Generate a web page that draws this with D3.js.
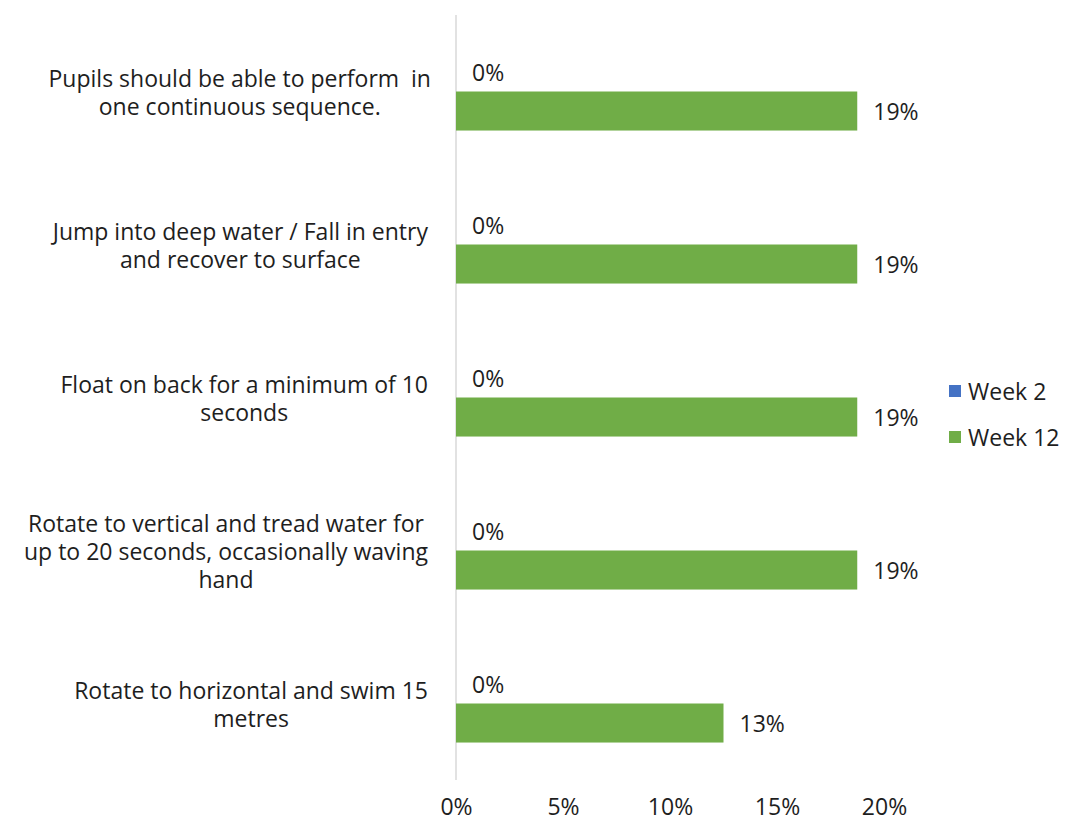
<!DOCTYPE html>
<html>
<head>
<meta charset="utf-8">
<script src="https://cdn.jsdelivr.net/npm/d3@7"></script>
<style>
  html, body { margin: 0; padding: 0; background: #fff; }
  svg { display: block; font-family: "Open Sans", Lato, sans-serif; }
</style>
</head>
<body>
<svg id="chart" width="1066" height="823"></svg>
<script>
// Skill items, each label split into its display lines
const categories = [
  "Pupils should be able to perform  in one continuous sequence.",
  "Jump into deep water / Fall in entry and recover to surface",
  "Float on back for a minimum of 10 seconds",
  "Rotate to vertical and tread water for up to 20 seconds, occasionally waving hand",
  "Rotate to horizontal and swim 15 metres"
];
const categoryLines = [
  ["Pupils should be able to perform  in", "one continuous sequence."],
  ["Jump into deep water / Fall in entry", "and recover to surface"],
  ["Float on back for a minimum of 10", "seconds"],
  ["Rotate to vertical and tread water for", "up to 20 seconds, occasionally waving", "hand"],
  ["Rotate to horizontal and swim 15", "metres"]
];
const seriesNames = ["Week 2", "Week 12"];
const week2 = [0, 0, 0, 0, 0];
const week12 = [0.1875, 0.1875, 0.1875, 0.1875, 0.125];
const xTicks = [0, 0.05, 0.10, 0.15, 0.20];
const colors = ["#4472C4", "#70AD47"];

const seriesValues = [week2, week12];
const rows = categories.map((c, i) => ({
  category: c,
  lines: categoryLines[i],
  values: seriesNames.map((s, j) => ({ series: s, value: seriesValues[j][i] }))
}));

const svg = d3.select("#chart");
const plot = { left: 456, right: 884, top: 15, bottom: 780 };
const fontSize = 23;
const textColor = "#1e1e1e";
const fmt = d3.format(".0%");

const x = d3.scaleLinear().domain([0, 0.20]).range([plot.left, plot.right]);
const y0 = d3.scaleBand().domain(categories).range([plot.top, plot.bottom]).padding(0);
const bw = y0.bandwidth();
const barH = bw / 3.92;
const y1 = d3.scaleBand().domain(seriesNames)
  .range([(bw - 2 * barH) / 2, (bw + 2 * barH) / 2]).padding(0);

// vertical category axis line
svg.append("line")
  .attr("x1", x(0)).attr("x2", x(0))
  .attr("y1", plot.top).attr("y2", plot.bottom)
  .attr("stroke", "#d9d9d9").attr("stroke-width", 1.5);

// bars and value labels
const groups = svg.selectAll("g.cat").data(rows).join("g")
  .attr("class", "cat")
  .attr("transform", d => `translate(0,${y0(d.category)})`);

groups.selectAll("rect").data(d => d.values).join("rect")
  .attr("x", x(0))
  .attr("y", d => y1(d.series))
  .attr("width", d => x(d.value) - x(0))
  .attr("height", y1.bandwidth())
  .attr("fill", (d, i) => colors[i]);

groups.selectAll("text.val").data(d => d.values).join("text")
  .attr("class", "val")
  .attr("x", d => x(d.value) + 16)
  .attr("y", d => y1(d.series) + y1.bandwidth() / 2)
  .attr("dominant-baseline", "central")
  .attr("font-size", fontSize)
  .attr("fill", textColor)
  .text(d => fmt(d.value));

// category labels: block right-aligned to the axis, lines centred within the block
const measure = svg.append("text").attr("font-size", fontSize).attr("visibility", "hidden");
const textWidth = s => { measure.text(s); return measure.node().getComputedTextLength(); };
const lineH = 28;
const labelRight = 428;

rows.forEach(r => {
  const maxW = d3.max(r.lines, textWidth);
  const cx = labelRight - maxW / 2;
  const cy = y0(r.category) + bw / 2;
  const n = r.lines.length;
  svg.append("text")
    .attr("text-anchor", "middle")
    .attr("font-size", fontSize)
    .attr("fill", textColor)
    .attr("xml:space", "preserve")
    .selectAll("tspan").data(r.lines).join("tspan")
    .attr("x", cx)
    .attr("y", (d, i) => cy + (i - (n - 1) / 2) * lineH)
    .attr("dominant-baseline", "central")
    .text(d => d);
});
measure.remove();

// x axis tick labels
const xAxis = d3.axisBottom(x).tickValues(xTicks).tickFormat(d3.format(".0%")).tickSize(0).tickPadding(0);
const gx = svg.append("g").attr("transform", `translate(0,${plot.bottom})`).call(xAxis);
gx.select(".domain").remove();
gx.selectAll("text")
  .attr("font-size", fontSize)
  .attr("font-family", "'Open Sans', Lato, sans-serif")
  .attr("fill", textColor)
  .attr("dy", null)
  .attr("y", 26)
  .attr("dominant-baseline", "central");

// legend
const legend = svg.append("g").attr("transform", "translate(949,391)");
const li = legend.selectAll("g").data(seriesNames).join("g")
  .attr("transform", (d, i) => `translate(0,${i * 46})`);
li.append("rect").attr("x", 0).attr("y", -6).attr("width", 12).attr("height", 12)
  .attr("fill", (d, i) => colors[i]);
li.append("text").attr("x", 19).attr("y", 0)
  .attr("dominant-baseline", "central")
  .attr("font-size", fontSize).attr("fill", textColor)
  .text(d => d);
</script>
</body>
</html>
